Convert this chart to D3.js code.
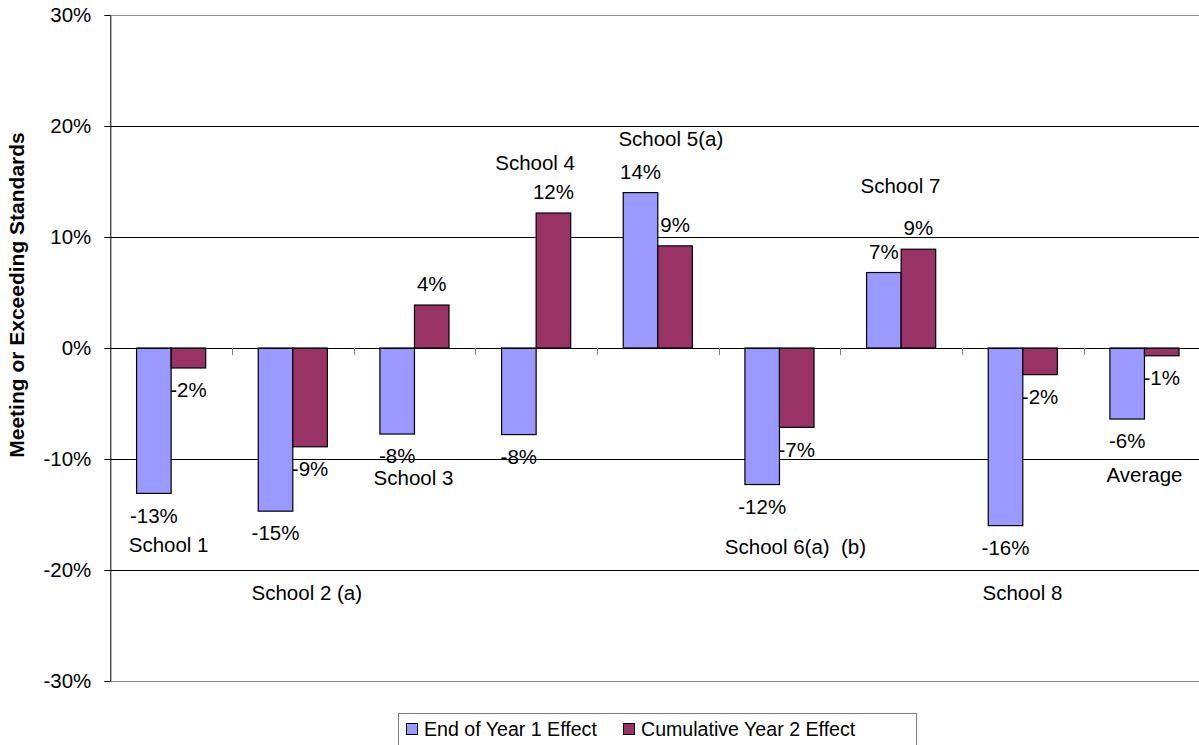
<!DOCTYPE html>
<html><head><meta charset="utf-8">
<script src="https://cdn.jsdelivr.net/npm/d3@7"></script>
<style>
html,body{margin:0;padding:0;background:#fff;overflow:hidden}
text{font-family:"Liberation Sans",Arial,sans-serif;fill:#000;font-size:20.5px}
</style></head><body>
<svg id="chart" width="1199" height="745"></svg>
<script>
// School groups along the category axis
const schools = ["School 1", "School 2 (a)", "School 3", "School 4", "School 5(a)",
                 "School 6(a)  (b)", "School 7", "School 8", "Average"];
const seriesNames = ["End of Year 1 Effect", "Cumulative Year 2 Effect"];
// Effect on share of students meeting or exceeding standards
const year1Effect = [-0.131, -0.147, -0.0775, -0.078, 0.140, -0.123, 0.068, -0.160, -0.064];
const year2Effect = [-0.018, -0.089, 0.0387, 0.1216, 0.092, -0.0715, 0.089, -0.024, -0.007];
const yTicks = [-0.3, -0.2, -0.1, 0, 0.1, 0.2, 0.3];
const seriesColors = ["#9999FF", "#993366"];
// Where each school name sits: [shift in px from the group centre, height in axis units]
const nameAnchors = [[-2.5, -0.177], [14, -0.221], [-1, -0.117], [-1, 0.167], [13, 0.188],
                     [16, -0.179], [-0.7, 0.146], [-0.4, -0.221], [0, -0.114]];

const svg = d3.select("#chart");
const plot = {left: 110.3, top: 15, bottom: 681, right: 1205.3};

const pct = d3.formatLocale({decimal: ".", thousands: ",", grouping: [3], currency: ["$", ""], minus: "-"}).format(".0%");

const x = d3.scaleBand().domain(schools).range([plot.left, plot.right]).paddingInner(0).paddingOuter(0);
const y = d3.scaleLinear().domain([-0.3, 0.3]).range([plot.bottom, plot.top]);
const barW = x.bandwidth() * 0.284;
const series = [year1Effect, year2Effect];

// horizontal gridlines; outer ones form the plot frame
svg.append("g").selectAll("line").data(yTicks).join("line")
  .attr("x1", plot.left).attr("x2", plot.right)
  .attr("y1", d => Math.round(y(d)) + 0.5).attr("y2", d => Math.round(y(d)) + 0.5)
  .attr("stroke", d => Math.abs(d) > 0.29 ? "#8c8c8c" : "#000")
  .attr("stroke-width", 1);

// bars
series.forEach((vals, s) => {
  svg.append("g").selectAll("rect").data(vals).join("rect")
    .attr("x", (d, i) => x(schools[i]) + x.bandwidth() / 2 - barW + s * barW)
    .attr("y", d => y(Math.max(0, d)))
    .attr("width", barW)
    .attr("height", d => Math.abs(y(d) - y(0)))
    .attr("fill", seriesColors[s])
    .attr("stroke", "#000").attr("stroke-width", 1.2);
});

// zero line and category tick marks
svg.append("line").attr("x1", plot.left).attr("x2", plot.right)
  .attr("y1", Math.round(y(0)) + 0.5).attr("y2", Math.round(y(0)) + 0.5)
  .attr("stroke", "#000");
svg.append("g").selectAll("line").data(schools.slice(1)).join("line")
  .attr("x1", d => Math.round(x(d)) + 0.5).attr("x2", d => Math.round(x(d)) + 0.5)
  .attr("y1", y(0)).attr("y2", y(0) + 7)
  .attr("stroke", "#808080");

// value axis
const yAxis = d3.axisLeft(y).tickValues(yTicks).tickFormat(pct).tickSize(6).tickSizeOuter(0).tickPadding(13);
const ag = svg.append("g").attr("transform", `translate(${plot.left},0)`).call(yAxis);
ag.select(".domain").attr("stroke", "#000");
ag.selectAll(".tick line").attr("stroke", "#000");
ag.selectAll(".tick text").attr("font-size", 20.5).attr("font-family", '"Liberation Sans",Arial,sans-serif').attr("fill", "#000");

svg.append("text")
  .attr("transform", "translate(17,295) rotate(-90)")
  .attr("text-anchor", "middle").attr("dy", "0.35em")
  .attr("font-weight", "bold").style("font-size", "21px")
  .text("Meeting or Exceeding Standards");

// value labels at the outer end of every bar
series.forEach((vals, s) => {
  svg.append("g").selectAll("text").data(vals).join("text")
    .attr("x", (d, i) => x(schools[i]) + x.bandwidth() / 2 - barW / 2 + s * barW)
    .attr("y", d => y(d) + (d < 0 ? 22 : -21))
    .attr("dy", "0.35em").attr("text-anchor", "middle")
    .text(d => pct(d));
});

// school names
svg.append("g").selectAll("text").data(schools).join("text")
  .attr("x", (d, i) => x(d) + x.bandwidth() / 2 + nameAnchors[i][0])
  .attr("y", (d, i) => y(nameAnchors[i][1]))
  .attr("dy", "0.35em").attr("text-anchor", "middle")
  .style("white-space", "pre")
  .text(d => d);

// legend
const lg = svg.append("g");
lg.append("rect").attr("x", 398.5).attr("y", 713.5).attr("width", 518).attr("height", 40)
  .attr("fill", "#fff").attr("stroke", "#808080");
const legendX = [406, 623];
seriesNames.forEach((name, s) => {
  lg.append("rect").attr("x", legendX[s] + 0.5).attr("y", 723.5).attr("width", 11).attr("height", 11)
    .attr("fill", seriesColors[s]).attr("stroke", "#000");
  lg.append("text").attr("x", legendX[s] + 18).attr("y", 729).attr("dy", "0.35em")
    .style("font-size", "19.6px").text(name);
});
</script>
</body></html>
